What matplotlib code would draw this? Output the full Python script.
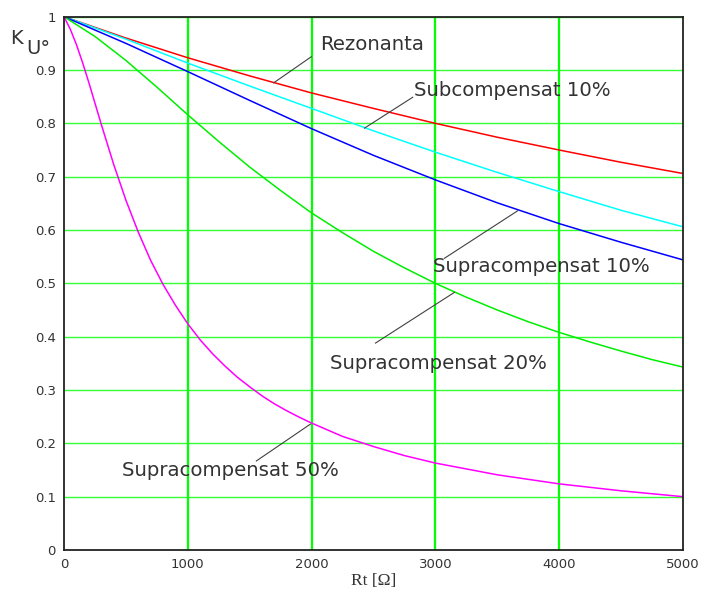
import matplotlib
matplotlib.use("Agg")
import matplotlib.pyplot as plt

# Rt [Ohm] sample points and K_U values
rt = [0, 500, 1000, 1500, 2000, 2500, 3000, 3500, 4000, 4500, 5000]
k_rezonanta = [1.0, 0.960, 0.923, 0.889, 0.857, 0.828, 0.800, 0.774, 0.750, 0.727, 0.706]
k_sub10 = [1.0, 0.958, 0.913, 0.870, 0.828, 0.786, 0.746, 0.708, 0.672, 0.637, 0.606]
k_supra10 = [1.0, 0.950, 0.897, 0.843, 0.790, 0.740, 0.694, 0.651, 0.612, 0.577, 0.544]

rt_20 = [0, 250, 500, 750, 1000, 1250, 1500, 1750, 2000, 2250, 2500, 2750,
         3000, 3250, 3500, 3750, 4000, 4250, 4500, 4750, 5000]
k_supra20 = [1.0, 0.963, 0.918, 0.868, 0.816, 0.766, 0.718, 0.674, 0.632, 0.595,
             0.560, 0.529, 0.500, 0.474, 0.450, 0.428, 0.408, 0.390, 0.373, 0.357,
             0.343]

rt_50 = [0, 50, 100, 150, 200, 250, 300, 400, 500, 600, 700, 800, 900, 1000,
         1100, 1200, 1300, 1400, 1500, 1600, 1700, 1800, 1900, 2000, 2250, 2500,
         2750, 3000, 3500, 4000, 4500, 5000]
k_supra50 = [1.0, 0.977, 0.948, 0.914, 0.877, 0.838, 0.799, 0.724, 0.656, 0.596,
             0.543, 0.498, 0.459, 0.424, 0.394, 0.368, 0.345, 0.324, 0.306, 0.289,
             0.274, 0.261, 0.249, 0.238, 0.213, 0.194, 0.177, 0.163, 0.141, 0.124,
             0.111, 0.100]

x_ticks = [0, 1000, 2000, 3000, 4000, 5000]
y_ticks = [0, 0.1, 0.2, 0.3, 0.4, 0.5, 0.6, 0.7, 0.8, 0.9, 1]
y_tick_labels = ["0", "0.1", "0.2", "0.3", "0.4", "0.5", "0.6", "0.7", "0.8", "0.9", "1"]

# label text, text anchor (Rt, K), leader start, leader end (on curve)
labels = [
    ("Rezonanta", (2065, 0.947), (1998, 0.925), (1694, 0.876)),
    ("Subcompensat 10%", (2831, 0.862), (2817, 0.849), (2427, 0.791)),
    ("Supracompensat 10%", (2978, 0.531), (3073, 0.547), (3664, 0.636)),
    ("Supracompensat 20%", (2145, 0.350), (2516, 0.388), (3153, 0.483)),
    ("Supracompensat 50%", (465, 0.149), (1554, 0.167), (1990, 0.236)),
]

TEXT = "#333333"

fig = plt.figure(figsize=(7.03, 5.90), dpi=100)
ax = fig.add_axes([64 / 703, 40 / 590, 619 / 703, 533.3 / 590])

for y in y_ticks[1:]:
    ax.axhline(y, color="#33ff33", lw=1.0, zorder=1)
for x in x_ticks[1:-1]:
    ax.axvline(x, color="#00ff00", lw=1.6, zorder=1)

ax.plot(rt, k_rezonanta, color="#ff0000", lw=1.1, zorder=3)
ax.plot(rt, k_sub10, color="#00ffff", lw=1.1, zorder=3)
ax.plot(rt, k_supra10, color="#0000ff", lw=1.1, zorder=3)
ax.plot(rt_20, k_supra20, color="#00ee00", lw=1.1, zorder=3)
ax.plot(rt_50, k_supra50, color="#ff00ff", lw=1.1, zorder=3)

for text, (tx, ty), (sx, sy), (ex, ey) in labels:
    ax.plot([sx, ex], [sy, ey], color="#404040", lw=0.8, zorder=4)
    ax.text(tx, ty, text, fontsize=14.2, color=TEXT, va="center", ha="left",
            zorder=5)

ax.set_xlim(0, 5000)
ax.set_ylim(0, 1)
ax.set_xticks(x_ticks)
ax.set_yticks(y_ticks)
ax.set_yticklabels(y_tick_labels)
ax.tick_params(length=0, labelsize=9.5, labelcolor=TEXT, pad=6)
for side in ["left", "bottom", "top", "right"]:
    ax.spines[side].set_color("#222222")
    ax.spines[side].set_linewidth(1.3)
    ax.spines[side].set_zorder(6)

ax.set_xlabel("Rt [\u03a9]", family="Liberation Serif", fontsize=12.5,
              color=TEXT, labelpad=1)

fig.text(10 / 703, 1 - 39 / 590, "K", fontsize=14, color=TEXT, va="center")
fig.text(26 / 703, 1 - 48 / 590, "U\u00b0", fontsize=14, color=TEXT, va="center")

fig.savefig("out.png", dpi=100, facecolor="white")
